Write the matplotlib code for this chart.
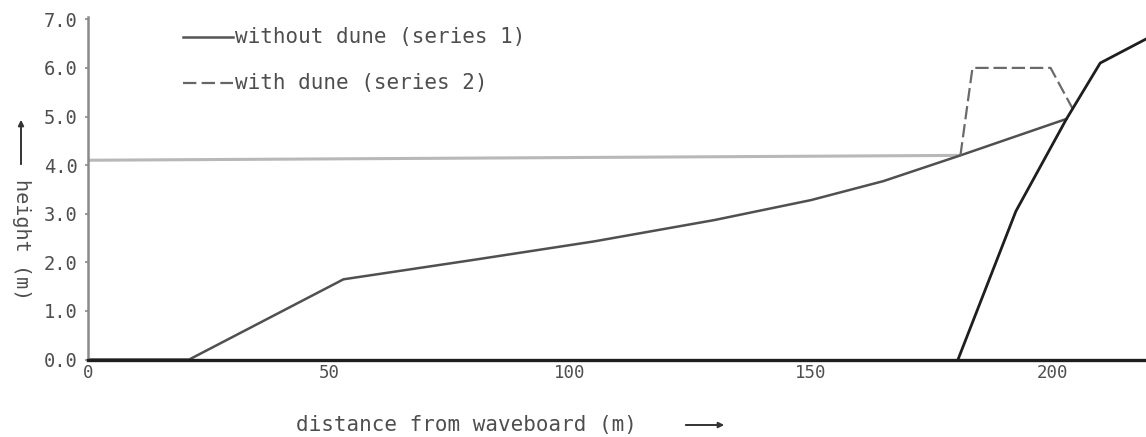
import matplotlib
matplotlib.use("Agg")
import matplotlib.pyplot as plt
from matplotlib.lines import Line2D

# ---- data ----
series1_x = [0, 21, 53, 80, 105, 130, 150, 165, 181, 203]
series1_y = [0, 0, 1.65, 2.05, 2.43, 2.87, 3.28, 3.67, 4.2, 4.95]

series2_x = [181, 183.5, 199.7, 204.5]
series2_y = [4.2, 6.0, 6.0, 5.12]

water_x = [0, 181]
water_y = [4.1, 4.2]

dike_x = [180.5, 192.5, 203, 210, 220]
dike_y = [0, 3.05, 4.95, 6.1, 6.62]

xticks = [0, 50, 100, 150, 200]
xtick_labels = ["0", "50", "100", "150", "200"]
yticks = [0, 1, 2, 3, 4, 5, 6, 7]
ytick_labels = ["0.0", "1.0", "2.0", "3.0", "4.0", "5.0", "6.0", "7.0"]

legend_labels = ["without dune (series 1)", "with dune (series 2)"]
xlabel = "distance from waveboard (m)"
ylabel = "height (m)"

plt.rcParams['font.family'] = ['DejaVu Sans Mono']
TXT = '#4e4e4e'

W, H = 1146, 437
fig = plt.figure(figsize=(W / 100, H / 100), dpi=100)

axis_px = 359.5
unit_px = 48.6
ytop = 7.05
top_px = axis_px - ytop * unit_px
ax = fig.add_axes([88 / W, 1 - axis_px / H, 1 - 88 / W, (axis_px - top_px) / H])

ax.plot(water_x, water_y, color='#b8b8b8', lw=2.2, solid_capstyle='butt')
ax.plot(series1_x, series1_y, color='#505050', lw=1.8)
ax.plot(series2_x, series2_y, color='#6a6a6a', lw=1.6, dashes=(6, 2.2))
ax.plot(dike_x, dike_y, color='#1e1e1e', lw=2.0, clip_on=True)

ax.set_xlim(0, 219.5)
ax.set_ylim(0, ytop)

for s in ['top', 'right']:
    ax.spines[s].set_visible(False)
ax.spines['left'].set_color('#8a8a8a')
ax.spines['left'].set_linewidth(1.8)
ax.spines['bottom'].set_color('#1e1e1e')
ax.spines['bottom'].set_linewidth(2.4)

ax.set_xticks(xticks)
ax.set_xticklabels(xtick_labels)
ax.set_yticks(yticks)
ax.set_yticklabels(ytick_labels)
ax.tick_params(axis='x', length=0, pad=3, labelsize=12.5, labelcolor=TXT)
ax.tick_params(axis='y', length=2.5, width=1.2, color='#8a8a8a', direction='out',
               pad=5, labelsize=13.5, labelcolor=TXT)

# legend (custom, as drawn in the reference)
fig.add_artist(Line2D([183 / W, 233 / W], [1 - 37 / H] * 2, color='#555555', lw=1.8))
fig.add_artist(Line2D([183 / W, 233 / W], [1 - 83 / H] * 2, color='#666666', lw=1.6,
                      dashes=(6, 2.4)))
fig.text(235 / W, 1 - 37 / H, legend_labels[0], ha='left', va='center', fontsize=15, color=TXT)
fig.text(235 / W, 1 - 83 / H, legend_labels[1], ha='left', va='center', fontsize=15, color=TXT)

# axis labels with arrows
fig.text(466 / W, 1 - 425 / H, xlabel, ha='center', va='center', fontsize=15, color=TXT)
ax.annotate('', xy=(727 / W, 1 - 425 / H), xytext=(683 / W, 1 - 425 / H),
            xycoords='figure fraction', textcoords='figure fraction',
            arrowprops=dict(arrowstyle='-|>', color='#333333', lw=1.4, mutation_scale=8))

fig.text(21 / W, 1 - 240 / H, ylabel, ha='center', va='center', rotation=-90,
         fontsize=14.5, color=TXT)
ax.annotate('', xy=(21 / W, 1 - 117 / H), xytext=(21 / W, 1 - 167 / H),
            xycoords='figure fraction', textcoords='figure fraction',
            arrowprops=dict(arrowstyle='-|>', color='#333333', lw=1.4, mutation_scale=8))

fig.savefig('out.png', dpi=100)
